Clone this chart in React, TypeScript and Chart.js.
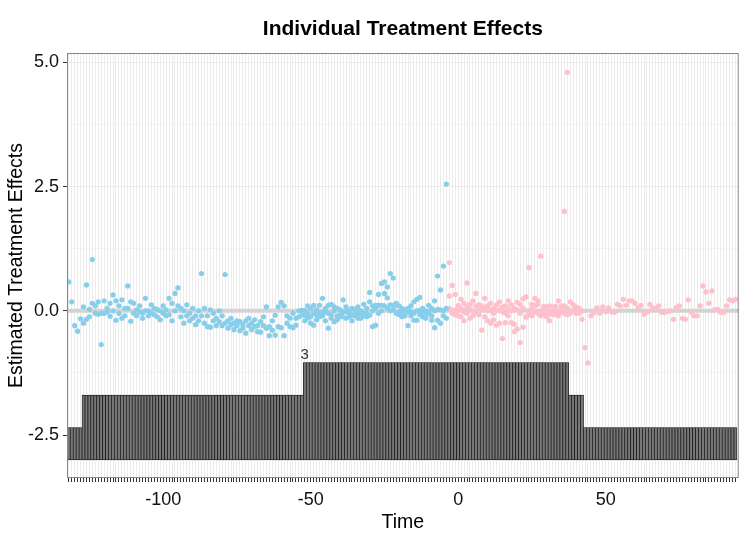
import { useEffect, useRef } from "react";
import { Chart, registerables } from "chart.js";

Chart.register(...registerables);

// individual effects per relative time period, one inner list per period
const firstTime = -132;
const lastPreTime = -4;

const preEffects: number[][] = [
  // -132 .. -128
  [0.58], [0.18], [-0.3], [-0.41], [-0.16],
  // -127 .. -118
  [0.08, -0.25], [0.52, -0.17], [0.03, -0.12], [1.03, 0.15], [-0.05, 0.1], [0.18, -0.07], [-0.05, -0.68], [0.2, -0.05], [0.05, -0.02], [0.15, -0.11],
  // -117 .. -108
  [0.32, 0.0], [0.2, -0.19], [0.1, -0.05], [0.22, -0.15], [0.05, -0.1], [0.5, 0.05], [0.18, -0.21], [0.15, -0.05], [0.02, -0.1], [0.1, -0.02],
  // -107 .. -98
  [-0.05, -0.15], [0.25, 0.0], [0.0, -0.1], [0.12, -0.05], [-0.08, 0.05], [0.03, -0.12], [0.0, -0.18], [0.1, -0.05], [-0.1, 0.02], [0.25, -0.08],
  // -97 .. -88
  [0.15, -0.2], [0.35, 0.0], [0.46, 0.1], [0.05, -0.12], [0.0, -0.25], [0.12, -0.1], [-0.05, -0.2], [0.05, -0.15], [-0.1, -0.28], [0.0, -0.2],
  // -87 .. -78
  [0.75, -0.1], [0.05, -0.25], [-0.32, -0.1], [-0.33, 0.02], [-0.05, -0.2], [-0.15, -0.3], [0.0, -0.22], [-0.1, -0.3], [0.73, -0.25], [-0.2, -0.35],
  // -77 .. -68
  [-0.15, -0.28], [-0.25, -0.38], [-0.3, -0.2], [-0.22, -0.4], [-0.35, -0.28], [-0.45, -0.2], [-0.3, -0.15], [-0.25, -0.38], [-0.18, -0.32], [-0.3, -0.42],
  // -67 .. -58
  [-0.43, -0.22], [-0.12, -0.3], [0.08, -0.35], [-0.32, -0.5], [-0.39, -0.2], [-0.09, -0.49], [0.08, -0.32], [0.17, -0.34], [0.1, -0.5], [-0.25, -0.1],
  // -57 .. -53
  [-0.15, -0.32], [-0.34, -0.05], [-0.29, -0.15], [-0.12, 0.0], [0.01, -0.09],
  // -52 .. -43
  [0.01, -0.09, -0.2], [-0.05, 0.1, -0.15], [-0.12, 0.05, -0.25], [0.11, -0.29, -0.05], [-0.09, 0.02, -0.18], [0.11, -0.05, -0.12], [0.25, -0.02, -0.1], [-0.02, 0.05, -0.2], [-0.35, 0.11, -0.05], [0.13, -0.08, -0.15],
  // -42 .. -33
  [-0.22, 0.0, 0.08], [-0.1, 0.05, -0.18], [-0.12, 0.02, -0.08], [0.22, -0.02, -0.12], [-0.02, 0.08, -0.15], [-0.12, 0.0, -0.05], [-0.09, 0.05, -0.2], [-0.05, -0.1, 0.02], [-0.05, 0.08, -0.15], [-0.15, 0.0, -0.08],
  // -32 .. -23
  [0.13, -0.05, -0.1], [-0.05, 0.05, -0.12], [-0.09, 0.37, 0.18], [0.1, -0.32, 0.0], [-0.29, 0.11, 0.05], [0.33, 0.11, -0.05], [0.55, 0.11, 0.0], [0.58, 0.35, 0.1], [0.48, 0.26, 0.05], [0.75, 0.12, 0.0],
  // -22 .. -13
  [0.66, 0.11, 0.02], [0.11, 0.15, -0.05], [-0.02, 0.1, -0.08], [-0.05, 0.05, -0.12], [-0.05, 0.02, -0.1], [-0.3, -0.02, 0.05], [-0.02, 0.1, -0.1], [-0.19, 0.18, -0.05], [0.23, -0.19, 0.0], [0.27, 0.01, -0.08],
  // -12 .. -4
  [-0.05, 0.05, -0.12], [-0.09, 0.0, -0.15], [0.11, -0.05, -0.02], [-0.19, 0.05, -0.1], [0.2, -0.34, 0.0], [0.7, -0.19, 0.03], [0.42, -0.25, 0.02], [0.9, 0.0, -0.1], [2.55, -0.15, 0.05]
];

const postEffects: number[][] = [
  // -3 .. 6
  [0.97, 0.3, 0.05], [0.51, 0.0, -0.05], [0.33, 0.02, -0.08], [0.11, 0.0, -0.1], [0.23, 0.05, -0.12], [0.15, -0.02, -0.2], [0.56, 0.08, -0.05], [0.13, 0.03, -0.15], [0.2, 0.0, -0.1], [0.35, 0.1, -0.03],
  // 7 .. 16
  [0.08, 0.12, -0.08], [0.1, -0.39, 0.02], [0.25, 0.06, -0.12], [0.1, 0.0, -0.2], [0.15, -0.25, 0.02], [0.05, -0.05, -0.18], [0.12, -0.29, 0.0], [0.18, 0.02, -0.25], [0.08, -0.56, -0.02], [0.1, -0.24, -0.05],
  // 17 .. 26
  [0.2, 0.03, -0.1], [0.12, -0.24, 0.0], [0.05, -0.42, -0.27], [0.17, -0.37, 0.02], [0.13, -0.64, -0.05], [0.24, -0.33, 0.05], [0.28, -0.13, -0.11], [0.87, 0.0, -0.08], [0.13, 0.05, -0.1], [0.25, 0.1, -0.02],
  // 27 .. 36
  [0.2, 0.13, -0.05], [1.1, 0.0, -0.1], [0.09, 0.03, -0.07], [0.08, -0.02, -0.12], [0.1, -0.2, -0.05], [0.08, 0.0, -0.08], [0.09, 0.0, -0.06], [0.2, -0.02, -0.1], [0.05, -0.02, 0.1], [2.0, 0.1, -0.05],
  // 37
  [4.8, 0.05, -0.08],
  // 38 .. 42
  [0.18, -0.05], [0.13, 0.02], [0.08, -0.05], [-0.05, 0.05], [-0.17, 0.0],
  // 43 .. 52
  [-0.74], [-1.05], [-0.1], [-0.04], [0.06], [-0.05], [0.08], [-0.02], [0.06], [-0.02],
  // 53 .. 62
  [-0.03], [0.13], [0.1], [0.23], [0.11], [0.2], [0.2], [0.15], [0.06], [0.11],
  // 63 .. 72
  [-0.07], [-0.03], [0.13], [0.06], [0.05], [0.1], [-0.03], [-0.03], [-0.01], [0.0],
  // 73 .. 82
  [-0.17], [0.07], [0.1], [-0.15], [-0.17], [0.22], [-0.03], [-0.1], [-0.1], [0.1],
  // 83 .. 94
  [0.5], [0.38], [0.15], [0.4], [0.03], [0.03], [-0.03], [-0.03], [0.1], [0.22], [0.2], [0.23]
];

const xTickLabels = [-100, -50, 0, 50];
const yTickLabels = [-2.5, 0, 2.5, 5];
const yMinorTicks = [-1.25, 1.25, 3.75];

// the count bars sit below the effects on the same axis
const countBase = -3;
const countStep = 0.652;

const effects = [...preEffects, ...postEffects];
const times = effects.map((_, i) => firstTime + i);
const counts = effects.map((v) => v.length);
const maxCount = Math.max(...counts);
const maxCountTime = times[counts.indexOf(maxCount)];

const FONT = "'Liberation Sans', Arial, Helvetica, sans-serif";

function points(pre: boolean) {
  return times.flatMap((t, i) =>
    (t <= lastPreTime) === pre ? effects[i].map((y) => ({ x: t, y })) : []
  );
}

const decor = {
  id: "decor",
  beforeDatasetsDraw(chart: Chart) {
    const { ctx, chartArea, scales } = chart;
    const y0 = scales.y.getPixelForValue(0);
    ctx.save();
    ctx.strokeStyle = "#D3D3D3";
    ctx.lineWidth = 4;
    ctx.beginPath();
    ctx.moveTo(chartArea.left, y0);
    ctx.lineTo(chartArea.right, y0);
    ctx.stroke();
    ctx.restore();
  },
  afterDatasetsDraw(chart: Chart) {
    const { ctx, chartArea, scales } = chart;
    ctx.save();
    ctx.fillStyle = "#333333";
    ctx.font = `15px ${FONT}`;
    ctx.textAlign = "center";
    ctx.textBaseline = "alphabetic";
    ctx.fillText(
      String(maxCount),
      scales.x.getPixelForValue(maxCountTime),
      scales.y.getPixelForValue(countBase + maxCount * countStep) - 4
    );
    ctx.strokeStyle = "#888888";
    ctx.lineWidth = 1;
    ctx.strokeRect(
      chartArea.left + 0.5,
      chartArea.top + 0.5,
      chartArea.right - chartArea.left - 1,
      chartArea.bottom - chartArea.top - 1
    );
    ctx.restore();
  },
  afterDraw(chart: Chart) {
    const { ctx, chartArea } = chart;
    const cx = (chartArea.left + chartArea.right) / 2;
    const cy = (chartArea.top + chartArea.bottom) / 2;
    ctx.save();
    ctx.fillStyle = "#000000";
    ctx.textAlign = "center";
    ctx.textBaseline = "middle";
    ctx.font = `bold 21px ${FONT}`;
    ctx.fillText("Individual Treatment Effects", cx, 29);
    ctx.font = `19.5px ${FONT}`;
    ctx.fillText("Time", cx, 523);
    ctx.translate(17, cy);
    ctx.rotate(-Math.PI / 2);
    ctx.fillText("Estimated Treatment Effects", 0, 0);
    ctx.restore();
  }
};

function EffectsChart() {
  const canvasRef = useRef<HTMLCanvasElement | null>(null);

  useEffect(() => {
    if (!canvasRef.current) return;

    const chart = new Chart(canvasRef.current, {
      type: "bar",
      data: {
        datasets: [
          {
            type: "scatter",
            data: points(true),
            pointRadius: 2.6,
            pointBorderWidth: 0,
            pointBackgroundColor: "#87CEEB",
            backgroundColor: "#87CEEB"
          },
          {
            type: "scatter",
            data: points(false),
            pointRadius: 2.6,
            pointBorderWidth: 0,
            pointBackgroundColor: "#FFC0CB",
            backgroundColor: "#FFC0CB"
          },
          {
            type: "bar",
            data: times.map((t, i) => ({ x: t, y: [countBase, countBase + counts[i] * countStep] })),
            backgroundColor: "#777777",
            borderColor: "#111111",
            borderWidth: 0.7,
            borderSkipped: false,
            barPercentage: 1,
            categoryPercentage: 1
          }
        ] as any
      },
      options: {
        animation: false,
        responsive: true,
        maintainAspectRatio: false,
        events: [],
        layout: { padding: { top: 53, right: 7.3, bottom: 0, left: 0 } },
        plugins: {
          legend: { display: false },
          tooltip: { enabled: false }
        },
        scales: {
          x: {
            type: "linear",
            min: -132.6,
            max: 95.1,
            offset: false,
            afterBuildTicks: (axis: any) => {
              axis.ticks = times.map((value) => ({ value }));
            },
            afterFit: (axis: any) => {
              axis.height = 64;
            },
            border: { display: false },
            grid: {
              color: "#EBEBEB",
              lineWidth: 1,
              tickColor: "#333333",
              tickLength: 4,
              offset: false
            },
            ticks: {
              autoSkip: false,
              maxRotation: 0,
              padding: 7,
              color: "#111111",
              font: { family: FONT, size: 18 },
              callback: (v: any) => (xTickLabels.includes(Number(v)) ? String(v) : "")
            }
          },
          y: {
            type: "linear",
            min: -3.365,
            max: 5.188,
            afterBuildTicks: (axis: any) => {
              axis.ticks = [...yTickLabels, ...yMinorTicks]
                .sort((a, b) => a - b)
                .map((value) => ({ value }));
            },
            afterFit: (axis: any) => {
              axis.width = 67;
            },
            border: { display: false },
            grid: {
              color: (c: any) => (yTickLabels.includes(c.tick?.value) ? "#EBEBEB" : "#F3F3F3"),
              tickColor: (c: any) =>
                yTickLabels.includes(c.tick?.value) ? "#333333" : "rgba(0,0,0,0)",
              tickLength: 4
            },
            ticks: {
              padding: 4,
              color: "#111111",
              font: { family: FONT, size: 18 },
              callback: (v: any) =>
                yTickLabels.includes(Number(v)) ? Number(v).toFixed(1) : ""
            }
          }
        }
      },
      plugins: [decor]
    });

    return () => chart.destroy();
  }, []);

  return (
    <div style={{ position: "absolute", left: 0, top: 0, width: 746, height: 542, background: "#FFFFFF" }}>
      <canvas ref={canvasRef} />
    </div>
  );
}

export default function App() {
  return <EffectsChart />;
}
